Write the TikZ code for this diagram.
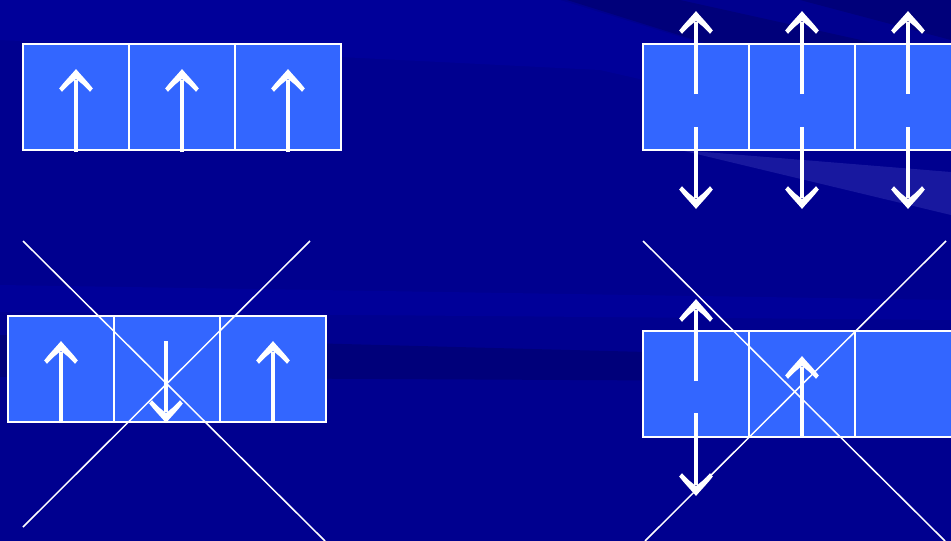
\documentclass[tikz,border=0pt]{standalone}
\usetikzlibrary{arrows.meta}
\definecolor{bgbase}{RGB}{0,0,143}
\definecolor{bglight}{RGB}{0,0,153}
\definecolor{bgdark}{RGB}{0,0,122}
\definecolor{bgband}{RGB}{40,40,170}
\definecolor{cellfill}{RGB}{51,102,255}
\pgfdeclarearrow{
  name = Chev,
  setup code = {
    \pgfarrowssettipend{0pt}
    \pgfarrowssetlineend{-11pt}
    \pgfarrowssetbackend{-23pt}
    \pgfarrowssetvisualbackend{-23pt}
    \pgfarrowshullpoint{0pt}{0pt}
    \pgfarrowsupperhullpoint{-23pt}{17pt}
  },
  drawing code = {
    \pgfpathmoveto{\pgfpoint{0pt}{0pt}}
    \pgfpathcurveto{\pgfpoint{-5pt}{4pt}}{\pgfpoint{-13pt}{12pt}}{\pgfpoint{-19.5pt}{16.8pt}}
    \pgfpathlineto{\pgfpoint{-22.8pt}{14pt}}
    \pgfpathcurveto{\pgfpoint{-17pt}{9pt}}{\pgfpoint{-13pt}{4pt}}{\pgfpoint{-10pt}{0pt}}
    \pgfpathcurveto{\pgfpoint{-13pt}{-4pt}}{\pgfpoint{-17pt}{-9pt}}{\pgfpoint{-22.8pt}{-14pt}}
    \pgfpathlineto{\pgfpoint{-19.5pt}{-16.8pt}}
    \pgfpathcurveto{\pgfpoint{-13pt}{-12pt}}{\pgfpoint{-5pt}{-4pt}}{\pgfpoint{0pt}{0pt}}
    \pgfpathclose
    \pgfusepathqfill
  }
}
\tikzset{
  cellbox/.style={draw=white, line width=1.6pt, fill=cellfill, minimum width=106pt, minimum height=106pt, inner sep=0pt, outer sep=0pt},
  spin/.style={draw=white, line width=4pt, -Chev},
  crossline/.style={draw=white, line width=1.5pt}
}
\begin{document}
\begin{tikzpicture}[x=1pt,y=-1pt]
\useasboundingbox (0,0) rectangle (951,541);
% background
\fill[bgbase] (0,0) rectangle (951,541);
\fill[bglight] (0,0) -- (560,0) -- (951,120) -- (951,150) -- (600,70) -- (0,40) -- cycle;
\fill[bgdark] (567,0) -- (680,0) -- (951,60) -- (951,120) -- cycle;
\fill[bgdark] (800,0) -- (951,0) -- (951,40) -- cycle;
\fill[bgband, opacity=0.6] (680,150) -- (951,172) -- (951,215) -- cycle;
\fill[bglight] (0,285) -- (951,300) -- (951,320) -- (0,312) -- cycle;
\fill[bgdark] (0,335) -- (951,360) -- (951,382) -- (0,377) -- cycle;

% top-left row
\node[cellbox] (a1) at (76,97) {};
\node[cellbox] (a2) at (182,97) {};
\node[cellbox] (a3) at (288,97) {};
\coordinate (a1s) at (76,152); \coordinate (a1t) at (76,69);
\coordinate (a2s) at (182,152); \coordinate (a2t) at (182,69);
\coordinate (a3s) at (288,152); \coordinate (a3t) at (288,69);
\draw[spin] (a1s) -- (a1t);
\draw[spin] (a2s) -- (a2t);
\draw[spin] (a3s) -- (a3t);

% top-right row
\node[cellbox] (b1) at (696,97) {};
\node[cellbox] (b2) at (802,97) {};
\node[cellbox] (b3) at (908,97) {};
\foreach \i/\x in {1/696,2/802,3/908}{
  \coordinate (bu\i s) at (\x,94); \coordinate (bu\i t) at (\x,11);
  \coordinate (bd\i s) at (\x,127); \coordinate (bd\i t) at (\x,209);
  \draw[spin] (bu\i s) -- (bu\i t);
  \draw[spin] (bd\i s) -- (bd\i t);
}

% bottom-left row
\node[cellbox] (c1) at (61,369) {};
\node[cellbox] (c2) at (167,369) {};
\node[cellbox] (c3) at (273,369) {};
\coordinate (c1s) at (61,423); \coordinate (c1t) at (61,341);
\coordinate (c2s) at (166,341); \coordinate (c2t) at (166,423);
\coordinate (c3s) at (273,423); \coordinate (c3t) at (273,341);
\draw[spin] (c1s) -- (c1t);
\draw[spin] (c2s) -- (c2t);
\draw[spin] (c3s) -- (c3t);
\coordinate (cx1) at (23,241); \coordinate (cx2) at (325,541);
\coordinate (cx3) at (310,241); \coordinate (cx4) at (23,527);
\draw[crossline] (cx1) -- (cx2);
\draw[crossline] (cx3) -- (cx4);

% bottom-right row
\node[cellbox] (d1) at (696,384) {};
\node[cellbox] (d2) at (802,384) {};
\node[cellbox] (d3) at (908,384) {};
\coordinate (d1us) at (696,381); \coordinate (d1ut) at (696,299);
\coordinate (d1ds) at (696,413); \coordinate (d1dt) at (696,496);
\coordinate (d2s) at (802,438); \coordinate (d2t) at (802,356);
\draw[spin] (d1us) -- (d1ut);
\draw[spin] (d1ds) -- (d1dt);
\draw[spin] (d2s) -- (d2t);
\coordinate (dx1) at (643,241); \coordinate (dx2) at (945,541);
\coordinate (dx3) at (946,241); \coordinate (dx4) at (645,541);
\draw[crossline] (dx1) -- (dx2);
\draw[crossline] (dx3) -- (dx4);
\end{tikzpicture}
\end{document}
